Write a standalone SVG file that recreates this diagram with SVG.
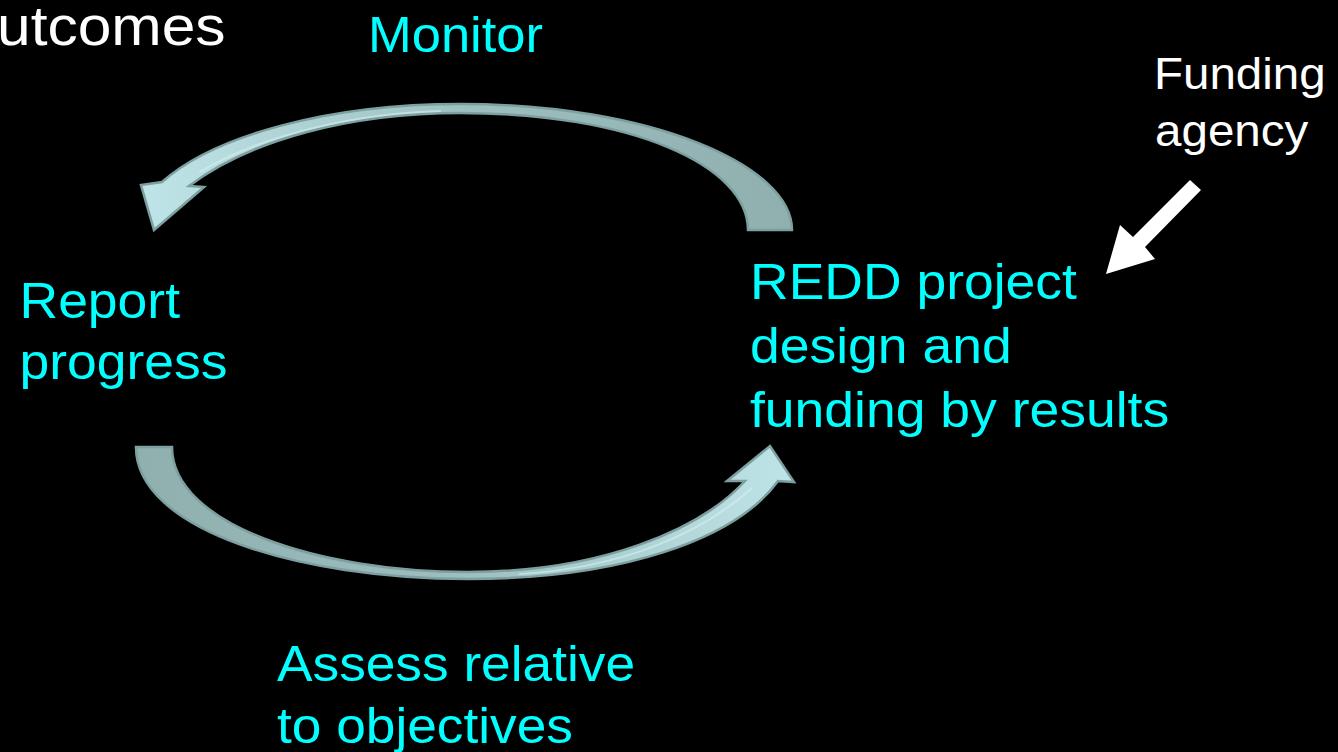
<svg xmlns="http://www.w3.org/2000/svg" width="1338" height="752" viewBox="0 0 1338 752">
  <style>
    .cyan { font-family: "Liberation Sans", Arial, sans-serif; fill: #00FFFF; font-size: 50px; }
    .white { font-family: "Liberation Sans", Arial, sans-serif; fill: #FFFFFF; }
    .curve { stroke: #7e9f9f; stroke-width: 2.5; stroke-linejoin: miter; }
    .hl { fill: none; stroke: #d4f0f2; stroke-linecap: round; }
  </style>
  <defs>
    <linearGradient id="gradTop" gradientUnits="userSpaceOnUse" x1="792" y1="0" x2="145" y2="0">
      <stop offset="0" stop-color="#90afaf"/>
      <stop offset="0.5" stop-color="#9dbfc0"/>
      <stop offset="1" stop-color="#bfe4e7"/>
    </linearGradient>
    <linearGradient id="gradBottom" gradientUnits="userSpaceOnUse" x1="136" y1="0" x2="795" y2="0">
      <stop offset="0" stop-color="#90afaf"/>
      <stop offset="0.5" stop-color="#9dbfc0"/>
      <stop offset="1" stop-color="#bfe4e7"/>
    </linearGradient>
  </defs>

  <rect x="0" y="0" width="1338" height="752" fill="#000000"/>

  <!-- title fragment -->
  <g id="title" transform="translate(-3,0) scale(1.08,1)">
    <text class="white" x="0" y="45" font-size="56">utcomes</text>
  </g>

  <!-- cycle connectors -->
  <g id="connectors">
    <!-- upper curved arrow: from project design back to reporting -->
    <path class="curve" fill="url(#gradTop)"
      d="M792,230 C792,165 650,104 460,104 C330,104 215,135 162,182 L141,185 L154,230 L204,187 L189,186 C250,140 350,113 460,113 C630,113 748,165 748,230 Z"/>
    <path class="hl" stroke-width="2" stroke-opacity="0.6" d="M200,172 C260,136 350,114 440,111"/>
    <!-- lower curved arrow: from reporting to project design -->
    <path class="curve" fill="url(#gradBottom)"
      d="M136,447 C136,530 300,579 468,579 C620,579 735,540 778,481 L794,482 L770,446 L727,481 L745,481 C700,530 600,572 468,572 C320,572 172,525 172,447 Z"/>
    <path class="hl" stroke-width="2" stroke-opacity="0.6" d="M520,574 C620,568 700,535 752,488"/>
    <!-- funding agency arrow -->
    <polygon fill="#FFFFFF" points="1190,180 1201,190 1145,247 1155,259 1106,274 1120,225 1133,237"/>
  </g>

  <g id="monitor" transform="translate(368,0) scale(1.05,1)">
    <text class="cyan" x="0" y="52" font-size="52">Monitor</text>
  </g>

  <g id="funding-agency" transform="translate(1154,0) scale(1.08,1)">
    <text class="white" x="0" y="89" font-size="44">Funding</text>
    <text class="white" x="1" y="146" font-size="44">agency</text>
  </g>

  <g id="report" transform="translate(19.5,0) scale(1.07,1)">
    <text class="cyan" x="0" y="318">Report</text>
    <text class="cyan" x="0" y="379">progress</text>
  </g>

  <g id="redd" transform="translate(750,0) scale(1.07,1)">
    <text class="cyan" x="0" y="299">REDD project</text>
    <text class="cyan" x="0" y="363">design and</text>
    <text class="cyan" x="0" y="427">funding by results</text>
  </g>

  <g id="assess" transform="translate(277,0) scale(1.065,1)">
    <text class="cyan" x="0" y="681">Assess relative</text>
    <text class="cyan" x="0" y="743">to objectives</text>
  </g>
</svg>
